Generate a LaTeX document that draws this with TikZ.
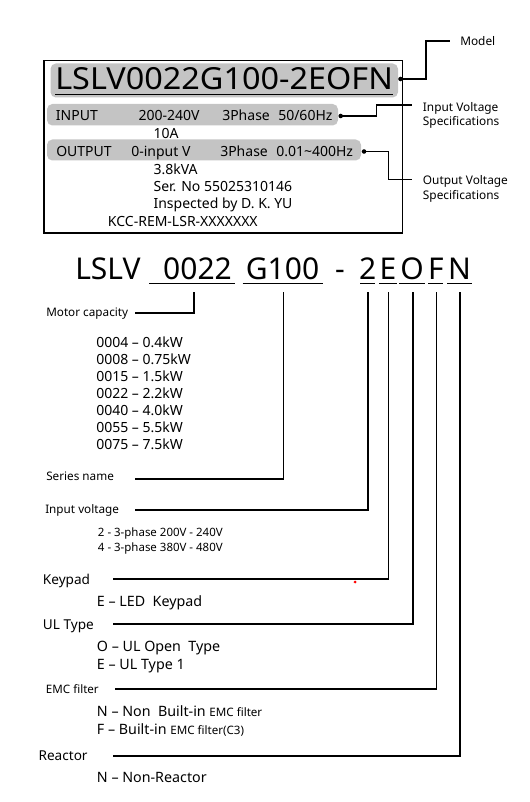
\documentclass[tikz,border=0pt]{standalone}
\usepackage{fontspec}
\setmainfont{Noto Sans}
\newfontfamily\modelfont[FakeStretch=1.066]{Noto Sans}
\usetikzlibrary{calc}
\newcommand{\fsz}[1]{\fontsize{#1}{#1}\selectfont}
\definecolor{bandgray}{RGB}{196,196,196}
\begin{document}
\begin{tikzpicture}[x=0.75pt,y=-0.75pt,
  txt/.style={inner sep=0pt, anchor=base west},
  ctxt/.style={inner sep=0pt, anchor=base},
  dotnode/.style={circle, fill=black, inner sep=0pt, minimum size=3.4pt},
  conn/.style={line width=1.0pt, line join=miter},
  lead/.style={line width=1.3pt, line join=miter},
  boxtxt/.style={txt, font=\fsz{10.5pt}},
  sidetxt/.style={txt, font=\fsz{8.9pt}},
  band/.style={fill=bandgray, rounded corners=4pt}]
\useasboundingbox (0,0) rectangle (529,802);

% ---------- nameplate ----------
\fill[band] (50.5,63.5) rectangle (398,97.5);
\fill[band] (47,104) rectangle (338,125.5);
\fill[band] (47,139.5) rectangle (361,160.5);
\draw[line width=1.1pt] (44,60.5) rectangle (402.5,233);

\node[txt, font=\modelfont\fsz{22.8pt}] (model) at (55,90) {LSLV0022G100-2EOFN};
\draw[line width=1.1pt] ($(model.base west)+(0,4.3)$) -- ($(model.base east)+(0,4.3)$);

\node[boxtxt] (in1) at (55.7,121) {INPUT};
\node[boxtxt] (in2) at (138.3,121) {200-240V};
\node[boxtxt] (in3) at (222,121) {3Phase};
\node[boxtxt] (in4) at (278,121) {50/60Hz};
\node[boxtxt] (amp) at (153.3,138.3) {10A};
\node[boxtxt] (out1) at (56,157) {OUTPUT};
\node[boxtxt] (out2) at (131,157) {0-input V};
\node[boxtxt] (out3) at (220,157) {3Phase};
\node[boxtxt] (out4) at (276,157) {0.01\char"007E 400Hz};
\node[boxtxt] (kva) at (153.3,175) {3.8kVA};
\node[boxtxt] (ser) at (153.3,191.7) {Ser. No 55025310146};
\node[boxtxt] (insp) at (153.3,208.5) {Inspected by D. K. YU};
\node[boxtxt] (kcc) at (107.7,226.7) {KCC-REM-LSR-XXXXXXX};

% right labels
\node[sidetxt] (lmodel) at (460,45.5) {Model};
\node[sidetxt] (linv) at (422.7,111.7) {Input Voltage};
\node[sidetxt] (linv2) at (422.7,126) {Specifications};
\node[sidetxt] (loutv) at (422.7,185) {Output Voltage};
\node[sidetxt] (loutv2) at (422.7,199.3) {Specifications};

\node[dotnode] (dM) at (400.5,79) {};
\node[dotnode] (dI) at (340.7,116) {};
\node[dotnode] (dO) at (364,151.5) {};
\coordinate (eM) at (450,41);
\coordinate (eI) at (411.7,105);
\coordinate (eO) at (411.7,179.5);
\draw[conn] (dM.center) -- (426,79) |- (eM);
\draw[conn] (dI.center) -- (376.7,116) |- (eI);
\draw[conn] (dO.center) -- (388.3,151.5) |- (eO);

% ---------- model code ----------
\begin{scope}[every node/.style={ctxt, font=\fsz{22.5pt}}]
\node[txt] (cL) at (75,279.3) {LSLV};
\node (c1) at (197.5,279.3) {0022};
\node (c2) at (282.5,279.3) {G100};
\node (cd) at (340,279.3) {-};
\node (c3) at (367.8,279.3) {2};
\node (c4) at (388,279.3) {E};
\node (c5) at (412.2,279.3) {O};
\node (c6) at (435.8,279.3) {F};
\node (c7) at (459.5,279.3) {N};
\end{scope}
\begin{scope}[line width=1.1pt]
\draw (149.3,283.5) -- (235,283.5);
\draw (242.7,283.5) -- (322.7,283.5);
\draw (360,283.5) -- (375.3,283.5);
\draw (379.3,283.5) -- (396.7,283.5);
\draw (399.3,283.5) -- (425,283.5);
\draw (428.3,283.5) -- (443.3,283.5);
\draw (447.3,283.5) -- (471.7,283.5);
\end{scope}

% tops of leader lines
\coordinate (t1) at (194,292);
\coordinate (t2) at (283.5,292);
\coordinate (t3) at (368.3,292);
\coordinate (t4) at (388.5,292);
\coordinate (t5) at (412.7,292);
\coordinate (t6) at (436.5,292);
\coordinate (t7) at (460,292);

% labels
\node[txt, font=\fsz{8.8pt}] (lmotor) at (46,316.8) {Motor capacity};
\node[txt, font=\fsz{8.8pt}] (lseries) at (46,480.3) {Series name};
\node[txt, font=\fsz{8.8pt}] (linput) at (45,513.3) {Input voltage};
\node[txt, font=\fsz{10.2pt}] (lkey) at (42.7,584.3) {Keypad};
\node[txt, font=\fsz{10.2pt}] (lul) at (42.7,629) {UL Type};
\node[txt, font=\fsz{8.7pt}] (lemc) at (45.7,693.3) {EMC filter};
\node[txt, font=\fsz{10.2pt}] (lreact) at (38.3,760.7) {Reactor};

\coordinate (s1) at (135,313.3);
\coordinate (s2) at (135,479.3);
\coordinate (s3) at (135,510);
\coordinate (s4) at (113.3,579.3);
\coordinate (s5) at (113.3,624.3);
\coordinate (s6) at (115,689.3);
\coordinate (s7) at (113.3,756);

\draw[lead] (s1) -| (t1);
\draw[lead] (s2) -| (t2);
\draw[lead] (s3) -| (t3);
\draw[lead] (s4) -| (t4);
\draw[lead] (s5) -| (t5);
\draw[lead] (s6) -| (t6);
\draw[lead] (s7) -| (t7);

% option lists
\begin{scope}[every node/.style={txt, font=\fsz{10.5pt}}]
\node (m1) at (96,347.3) {0004 – 0.4kW};
\node (m2) at (96,364.4) {0008 – 0.75kW};
\node (m3) at (96,381.5) {0015 – 1.5kW};
\node (m4) at (96,398.6) {0022 – 2.2kW};
\node (m5) at (96,415.7) {0040 – 4.0kW};
\node (m6) at (96,432.8) {0055 – 5.5kW};
\node (m7) at (96,449.9) {0075 – 7.5kW};
\end{scope}
\node[txt, font=\fsz{8.6pt}] (v1) at (97.7,536) {2 - 3-phase 200V - 240V};
\node[txt, font=\fsz{8.6pt}] (v2) at (97.7,551.7) {4 - 3-phase 380V - 480V};
\begin{scope}[every node/.style={txt, font=\fsz{10.7pt}}]
\node (k1) at (96.7,606) {E – LED\ \ Keypad};
\node (u1) at (96.7,651.7) {O – UL Open\ \ Type};
\node (u2) at (96.7,669) {E – UL Type 1};
\node (f1) at (96.7,716.7) {N – Non\ \ Built-in \fsz{8.7pt}EMC filter};
\node (f2) at (96.7,734) {F – Built-in \fsz{8.7pt}EMC filter(C3)};
\node (r1) at (96.7,782.3) {N – Non-Reactor};
\end{scope}

% stray red mark
\fill[red] (355,582) circle (1.5);
\end{tikzpicture}
\end{document}
